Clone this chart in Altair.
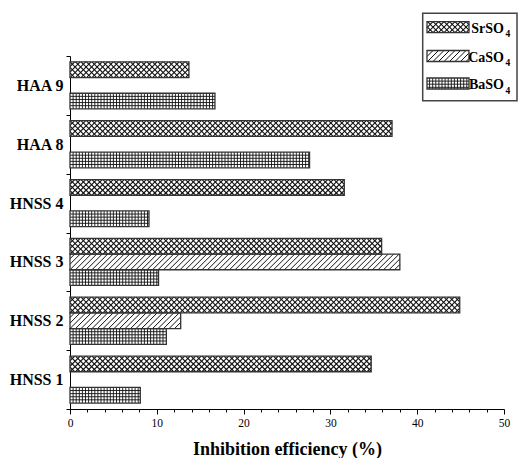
import math
import altair as alt
import pandas as pd

# ---------------- data ----------------
categories = ["HNSS 1", "HNSS 2", "HNSS 3", "HNSS 4", "HAA 8", "HAA 9"]
series = ["SrSO4", "CaSO4", "BaSO4"]
sr_values = [34.7, 44.9, 35.9, 31.6, 37.1, 13.7]
ca_values = [None, 12.75, 38.0, None, None, None]
ba_values = [8.1, 11.1, 10.2, 9.1, 27.6, 16.7]
x_major_ticks = [0, 10, 20, 30, 40, 50]
x_minor_step = 2

# ---------------- layout ----------------
SERIF = "Liberation Serif"
W, H = 434, 353
X_MAX = x_major_ticks[-1]
N = len(categories)
PXX = W / X_MAX
PXY = H / N
PAD = 0.1
SLOT = (1 - 2 * PAD) / 3
INK = "#111111"


def to_data(px, py):
    return px / PXX, N - py / PXY


def to_px(x, y):
    return x * PXX, (N - y) * PXY


def diag_lines(x0, x1, ytop, ybot, spacing, direction):
    h = ybot - ytop
    segs = []
    k0 = math.floor((x0 - h) / spacing)
    k1 = math.ceil(x1 / spacing)
    for k in range(k0, k1 + 1):
        s = k * spacing
        t0 = max(0.0, (x0 - s) / h)
        t1 = min(1.0, (x1 - s) / h)
        if t1 - t0 <= 1e-6:
            continue
        xa, xb = s + t0 * h, s + t1 * h
        if direction > 0:
            ya, yb = ybot - t0 * h, ybot - t1 * h
        else:
            ya, yb = ytop + t0 * h, ytop + t1 * h
        segs.append((xa, ya, xb, yb))
    return segs


def grid_lines(x0, x1, ytop, ybot, spacing):
    segs = []
    k = math.floor(x0 / spacing) + 1
    while k * spacing < x1 - 0.3:
        s = k * spacing
        if s > x0 + 0.3:
            segs.append((s, ytop, s, ybot))
        k += 1
    j = 1
    while ytop + j * spacing < ybot - 0.5:
        yy = ytop + j * spacing
        segs.append((x0, yy, x1, yy))
        j += 1
    return segs


def texture(name, x0, x1, ytop, ybot):
    if name == "SrSO4":
        return diag_lines(x0, x1, ytop, ybot, 5.5, 1) + diag_lines(x0, x1, ytop, ybot, 5.5, -1)
    if name == "CaSO4":
        return diag_lines(x0, x1, ytop, ybot, 5.5, 1)
    return grid_lines(x0, x1, ytop, ybot, 3.1)


# bars table
values_by_series = dict(zip(series, [sr_values, ca_values, ba_values]))
bar_rows = []
for c, cat in enumerate(categories):
    for k, name in enumerate(series):
        v = values_by_series[name][c]
        if v is None:
            continue
        ytop = c + 1 - PAD - k * SLOT
        bar_rows.append(dict(category=cat, series=name, value=v, x0=0.0,
                             y_top=ytop, y_bot=ytop - SLOT))
bars = pd.DataFrame(bar_rows)

# legend layout (plot-relative pixels)
LEG_BOX = (352.7, -42.7, 447.0, 44.7)
SW_X = (357.0, 399.0)
SW_CENTERS = [-28.8, 0.0, 27.5]
SW_H = 11.0
TXT_X = 434.0
TXT_BASE = [-23.3, 5.5, 33.0]

legend_rows = []
for k, name in enumerate(series):
    x0, y0 = to_data(SW_X[0], SW_CENTERS[k] - SW_H / 2)
    x1, y1 = to_data(SW_X[1], SW_CENTERS[k] + SW_H / 2)
    tx, ty = to_data(TXT_X, TXT_BASE[k])
    sx, sy = to_data(TXT_X + 1.5, TXT_BASE[k] + 4.5)
    legend_rows.append(dict(series=name, x0=x0, x1=x1, y_top=y0, y_bot=y1,
                            main=name[:-1], sub=name[-1], tx=tx, ty=ty, sx=sx, sy=sy))
legend = pd.DataFrame(legend_rows)
bx0, by0 = to_data(LEG_BOX[0], LEG_BOX[1])
bx1, by1 = to_data(LEG_BOX[2], LEG_BOX[3])
legend_box = pd.DataFrame([dict(x0=bx0, x1=bx1, y0=by0, y1=by1)])

# texture line tables
line_rows = []
for r in bar_rows:
    px0, pyt = to_px(0.0, r["y_top"])
    px1, pyb = to_px(r["value"], r["y_bot"])
    for (xa, ya, xb, yb) in texture(r["series"], px0, px1, pyt, pyb):
        a = to_data(xa, ya)
        b = to_data(xb, yb)
        line_rows.append(dict(series=r["series"], x=a[0], y=a[1], x2=b[0], y2=b[1]))
for k, name in enumerate(series):
    for (xa, ya, xb, yb) in texture(name, SW_X[0], SW_X[1],
                                    SW_CENTERS[k] - SW_H / 2, SW_CENTERS[k] + SW_H / 2):
        a = to_data(xa, ya)
        b = to_data(xb, yb)
        line_rows.append(dict(series=name, x=a[0], y=a[1], x2=b[0], y2=b[1]))
lines = pd.DataFrame(line_rows)

# ---------------- scales / axes ----------------
xscale = alt.Scale(domain=[0, X_MAX], nice=False, zero=False)
yscale = alt.Scale(domain=[0, N], nice=False, zero=False)

x_values = list(range(0, X_MAX + 1, x_minor_step))
major_test = " || ".join(f"datum.value === {t}" for t in x_major_ticks)
xaxis = alt.Axis(
    values=x_values,
    labelExpr=f"({major_test}) ? datum.label : ''",
    tickSize={"condition": {"test": major_test, "value": 5}, "value": 3},
    grid=False, domainColor="black", tickColor="black", domainWidth=1, tickWidth=1,
    labelFont=SERIF, labelFontSize=11.5, labelColor="black", labelPadding=3,
    labelFlush=False, labelOverlap=False,
    title="Inhibition efficiency (%)", titleFont=SERIF, titleFontSize=18,
    titleFontWeight="bold", titleColor="black", titleBaseline="alphabetic", titleY=45,
)
names_js = "[" + ",".join(f"'{c}'" for c in categories) + "]"
yaxis = alt.Axis(
    values=[i * 0.5 for i in range(0, 2 * N + 1)],
    labelExpr=f"datum.value % 1 === 0.5 ? {names_js}[floor(datum.value)] : ''",
    tickOpacity={"condition": {"test": "datum.value % 1 !== 0", "value": 0}, "value": 1},
    tickSize=4, grid=False, domainColor="black", tickColor="black", domainWidth=1,
    labelFont=SERIF, labelFontSize=16, labelFontWeight="bold", labelColor="black",
    labelPadding=3, labelOverlap=False, title=None,
)


def X(field):
    return alt.X(field, type="quantitative", scale=xscale, axis=xaxis)


def Y(field):
    return alt.Y(field, type="quantitative", scale=yscale, axis=yaxis)


legend_box_layer = alt.Chart(legend_box).mark_rect(
    fill="white", stroke="#444444", strokeWidth=1.5
).encode(x=X("x0"), x2="x1", y=Y("y0"), y2="y1")

bar_bg = alt.Chart(bars).mark_rect(fill="white").encode(
    x=X("x0"), x2="value", y=Y("y_top"), y2="y_bot")
legend_bg = alt.Chart(legend).mark_rect(fill="white").encode(
    x=X("x0"), x2="x1", y=Y("y_top"), y2="y_bot")

tex_layers = []
for name, width in zip(series, [1.1, 1.0, 0.9]):
    tex_layers.append(
        alt.Chart(lines[lines["series"] == name]).mark_rule(
            color=INK, strokeWidth=width
        ).encode(x=X("x"), x2="x2", y=Y("y"), y2="y2")
    )

bar_outline = alt.Chart(bars).mark_rect(
    filled=False, stroke="#333333", strokeWidth=1.3
).encode(x=X("x0"), x2="value", y=Y("y_top"), y2="y_bot")
legend_outline = alt.Chart(legend).mark_rect(
    filled=False, stroke="#333333", strokeWidth=1.3
).encode(x=X("x0"), x2="x1", y=Y("y_top"), y2="y_bot")

legend_text = alt.Chart(legend).mark_text(
    align="right", baseline="alphabetic", font=SERIF, fontSize=14,
    fontWeight="bold", color="black"
).encode(x=X("tx"), y=Y("ty"), text="main")
legend_sub = alt.Chart(legend).mark_text(
    align="left", baseline="alphabetic", font=SERIF, fontSize=9.5,
    fontWeight="bold", color="black"
).encode(x=X("sx"), y=Y("sy"), text="sub")

chart = alt.layer(
    legend_box_layer, bar_bg, legend_bg, *tex_layers, bar_outline, legend_outline,
    legend_text, legend_sub
).properties(
    width=W, height=H,
    autosize=alt.AutoSizeParams(type="none"),
    padding={"left": 62, "top": 48, "right": 14, "bottom": 49},
    background="white",
).configure_view(stroke=None)

chart.save("out.html", embed_options={"renderer": "svg", "actions": False})
